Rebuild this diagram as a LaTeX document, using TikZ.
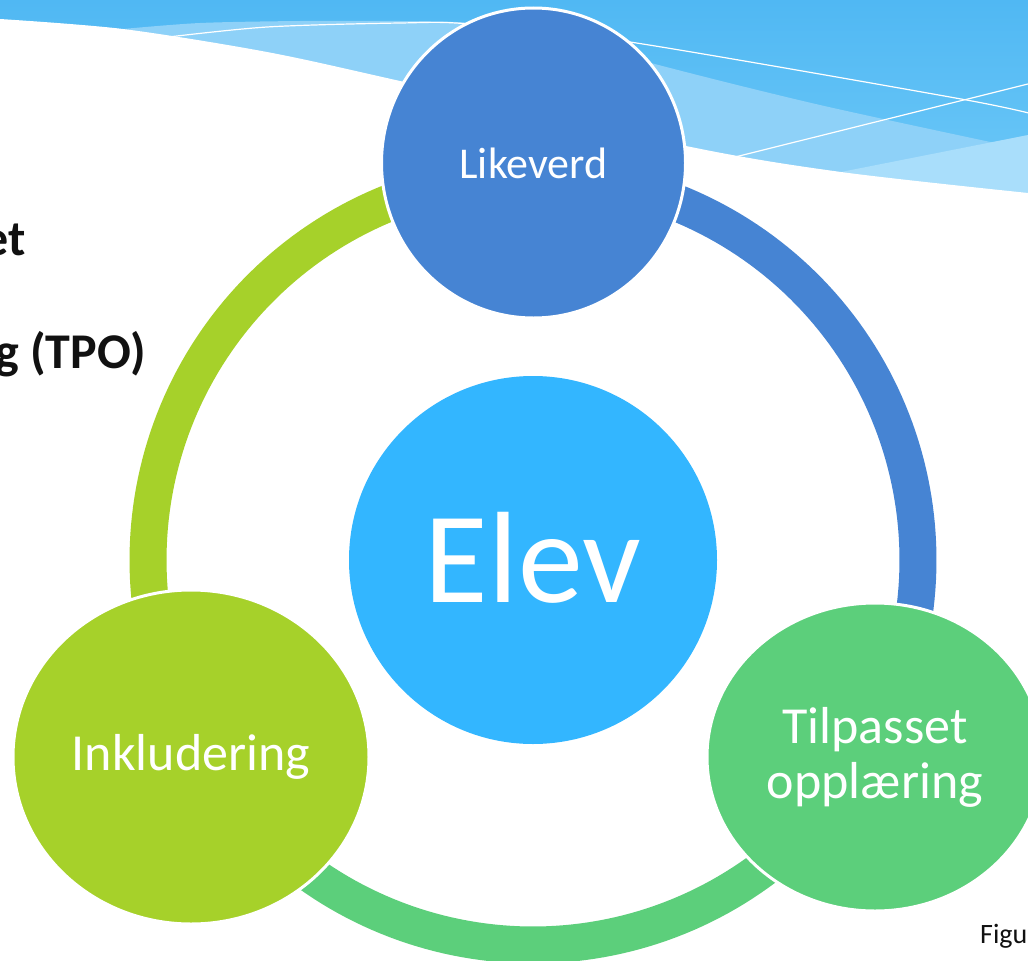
\documentclass[tikz,border=0pt]{standalone}
\usepackage{fontspec}
\setmainfont{Carlito}
\usetikzlibrary{shapes.geometric}
\definecolor{topA}{HTML}{50B8F3}
\definecolor{topB}{HTML}{70CAF8}
\definecolor{bandC}{HTML}{8ED1F8}
\definecolor{wedgeC}{HTML}{A9DEFB}
\definecolor{likeC}{HTML}{4684D3}
\definecolor{elevC}{HTML}{33B6FF}
\definecolor{inklC}{HTML}{A6D12A}
\definecolor{tilpC}{HTML}{5CCF7B}
\definecolor{textC}{HTML}{111111}
\tikzset{
  ringseg/.style={line width=37pt},
  wline/.style={draw=white, line width=1.2pt},
  bub/.style={ellipse, draw=white, line width=3pt, inner sep=0pt, text=white, align=center},
  lefttext/.style={anchor=base east, inner sep=0pt, text=textC, font=\bfseries\fontsize{50}{60}\selectfont},
}
\begin{document}
\begin{tikzpicture}[x=1pt,y=-1pt]
\useasboundingbox (0,0) rectangle (1028,961);
\clip (0,0) rectangle (1028,961);
\fill[white] (0,0) rectangle (1028,961);
% top decoration
\shade[top color=topA, bottom color=topB] (0,0) rectangle (1028,220);
\fill[bandC] plot[smooth] coordinates {(123,29) (200,23) (300,21) (400,21) (470,23) (560,36) (651,63) (820,105) (1028,150)} -- (1028,230) -- (123,230) -- cycle;
\fill[wedgeC] (841,172) -- (1028,135) -- (1028,230) -- (841,230) -- cycle;
\draw[wline] plot[smooth] coordinates {(160,38) (267,27) (400,23) (470,24) (630,42) (961,99) (1040,116)};
\draw[wline] (735,157) -- (1040,81);
\fill[white] plot[smooth] coordinates {(0,19) (123,29) (267,52) (400,81) (686,146) (841,172) (1028,193)} -- (1028,320) -- (0,320) -- cycle;
% ring
\coordinate (rc) at (533,560);
\draw[ringseg, inklC] plot[domain=150:270, samples=90] ({533+385*cos(\x)},{560+385*sin(\x)});
\draw[ringseg, likeC] plot[domain=270:390, samples=90] ({533+385*cos(\x)},{560+385*sin(\x)});
\draw[ringseg, tilpC] plot[domain=30:150, samples=90] ({533+385*cos(\x)},{560+385*sin(\x)});
% circles
\node[bub, fill=likeC, minimum width=304, minimum height=310, font=\fontsize{44}{50}\selectfont] (like) at (533.5,163) {Likeverd};
\node[bub, fill=inklC, minimum width=356, minimum height=334, font=\fontsize{52}{55}\selectfont] (inkl) at (191,757) {Inkludering};
\node[bub, fill=tilpC, minimum width=336, minimum height=308, font=\fontsize{52}{55}\selectfont] (tilp) at (875,757) {Tilpasset\\opplæring};
\node[circle, fill=elevC, minimum size=368, inner sep=0pt, text=white, font=\fontsize{130}{140}\selectfont] (elev) at (533,560) {\raisebox{6pt}{Elev}};
% side texts
\node[lefttext] (t1) at (26,255) {et};
\node[lefttext] (t2) at (146,368) {g (TPO)};
\node[anchor=base west, inner sep=0pt, text=textC, font=\fontsize{28}{34}\selectfont] (fig) at (980,943) {Figu};
\end{tikzpicture}
\end{document}
